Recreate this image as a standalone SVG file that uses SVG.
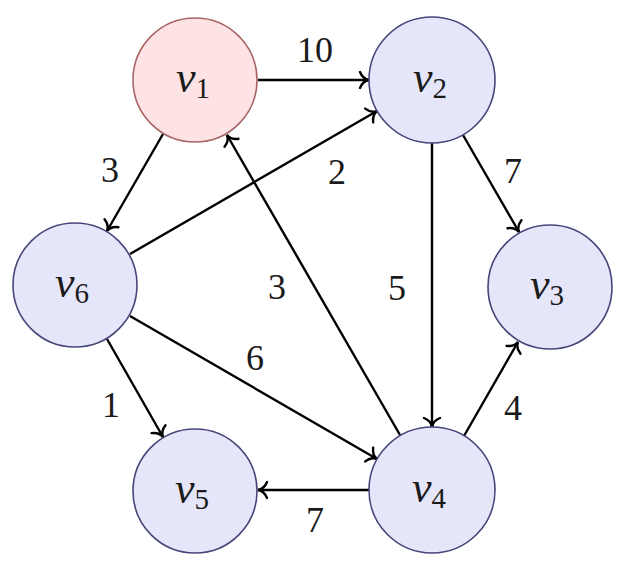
<svg xmlns="http://www.w3.org/2000/svg" width="621" height="573" viewBox="0 0 621 573">
<defs>
<marker id="arr" markerUnits="userSpaceOnUse" markerWidth="24" markerHeight="24" viewBox="-12 -12 24 24" refX="0" refY="0" orient="auto">
<path d="M-9,-8 C-7,-3 -3,-0.5 0,0 C-3,0.5 -7,3 -9,8" fill="none" stroke="#000" stroke-width="2.4" stroke-linecap="round"/>
</marker>
<style>
.node{fill:#e6e6fa;stroke:#46467a;stroke-width:1.6}
.start{fill:#fde3e3;stroke:#a86565;stroke-width:1.6}
.e{stroke:#000;stroke-width:2.4;fill:none;marker-end:url(#arr)}
text{font-family:'Liberation Serif','Times New Roman','DejaVu Serif',serif;fill:#1a1a1a}
.v{font-style:italic;font-size:44px}
.s{font-style:normal;font-size:29px}
.lbl{font-size:36px;text-anchor:middle}
</style>
</defs>
<g id="edges">
<line class="e" x1="258" y1="80" x2="369" y2="80"/>
<line class="e" x1="163" y1="134" x2="107" y2="231"/>
<line class="e" x1="130" y1="254" x2="377" y2="111"/>
<line class="e" x1="463" y1="135" x2="519" y2="232"/>
<line class="e" x1="432" y1="143" x2="432" y2="427"/>
<line class="e" x1="400" y1="435" x2="227" y2="135"/>
<line class="e" x1="130" y1="316" x2="377" y2="459"/>
<line class="e" x1="107" y1="339" x2="163" y2="437"/>
<line class="e" x1="464" y1="436" x2="518" y2="342"/>
<line class="e" x1="369" y1="490" x2="258" y2="490"/>
<text class="lbl" x="315" y="62">10</text>
<text class="lbl" x="110" y="182">3</text>
<text class="lbl" x="337" y="184">2</text>
<text class="lbl" x="513" y="183">7</text>
<text class="lbl" x="397" y="300">5</text>
<text class="lbl" x="277" y="299">3</text>
<text class="lbl" x="255" y="370">6</text>
<text class="lbl" x="111" y="417">1</text>
<text class="lbl" x="513" y="420">4</text>
<text class="lbl" x="315" y="532">7</text>
</g>
<g id="v1"><circle class="start" cx="195" cy="80" r="62"/><text class="v" x="176" y="92">v<tspan class="s" dy="6">1</tspan></text></g>
<g id="v2"><circle class="node" cx="432" cy="80" r="63"/><text class="v" x="413" y="92">v<tspan class="s" dy="6">2</tspan></text></g>
<g id="v6"><circle class="node" cx="75" cy="285" r="62"/><text class="v" x="55" y="297">v<tspan class="s" dy="6">6</tspan></text></g>
<g id="v3"><circle class="node" cx="550" cy="287" r="62"/><text class="v" x="530" y="299">v<tspan class="s" dy="6">3</tspan></text></g>
<g id="v5"><circle class="node" cx="195" cy="491" r="62"/><text class="v" x="175" y="503">v<tspan class="s" dy="6">5</tspan></text></g>
<g id="v4"><circle class="node" cx="432" cy="490" r="63"/><text class="v" x="412" y="502">v<tspan class="s" dy="6">4</tspan></text></g>
</svg>
